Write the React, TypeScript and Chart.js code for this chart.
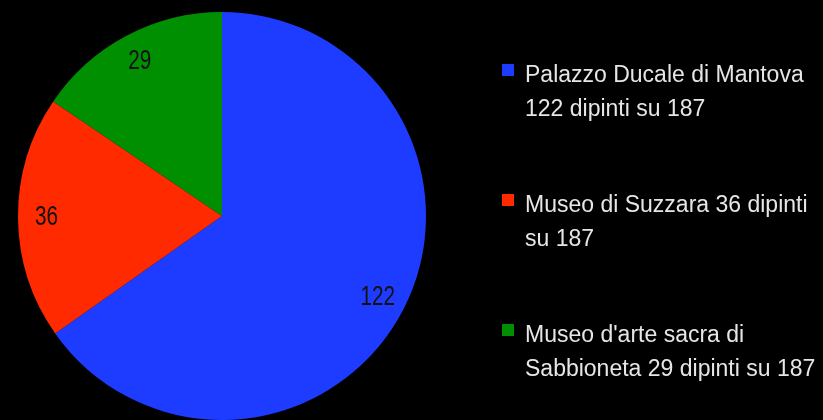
import React, { useEffect, useRef } from "react";
import { Chart, registerables } from "chart.js";

Chart.register(...registerables);

const categories = [
  "Palazzo Ducale di Mantova 122 dipinti su 187",
  "Museo di Suzzara 36 dipinti su 187",
  "Museo d'arte sacra di Sabbioneta 29 dipinti su 187",
];
const values = [122, 36, 29];
const colors = ["#1e3cff", "#ff2a00", "#008f00"];

const labelsPlugin = {
  id: "sliceLabels",
  afterDatasetsDraw(chart: any) {
    const ctx = chart.ctx;
    const meta = chart.getDatasetMeta(0);
    meta.data.forEach((arc: any, i: number) => {
      const p = arc.getProps(["x", "y", "startAngle", "endAngle", "outerRadius"], true);
      const mid = (p.startAngle + p.endAngle) / 2;
      const r = p.outerRadius * 0.86;
      const x = p.x + Math.cos(mid) * r;
      const y = p.y + Math.sin(mid) * r;
      ctx.save();
      ctx.translate(x, y);
      ctx.scale(0.74, 1);
      ctx.font = "28px 'Liberation Sans', Arial, sans-serif";
      ctx.fillStyle = "#111111";
      ctx.textAlign = "center";
      ctx.textBaseline = "middle";
      ctx.fillText(String(values[i]), 0, 0);
      ctx.restore();
    });
  },
};

const legendPlugin = {
  id: "sideLegend",
  afterDraw(chart: any) {
    const ctx = chart.ctx;
    ctx.save();
    ctx.font = "23px 'Liberation Sans', Arial, sans-serif";
    ctx.textAlign = "left";
    ctx.textBaseline = "alphabetic";
    const textX = 525;
    const maxW = chart.width - textX - 2;
    categories.forEach((label, i) => {
      const base = 82 + i * 130;
      ctx.fillStyle = colors[i];
      ctx.fillRect(502, base - 18, 12, 12);
      const words = label.split(" ");
      const lines: string[] = [];
      let cur = "";
      words.forEach((w) => {
        const t = cur ? cur + " " + w : w;
        if (ctx.measureText(t).width > maxW && cur) {
          lines.push(cur);
          cur = w;
        } else cur = t;
      });
      if (cur) lines.push(cur);
      ctx.fillStyle = "#e6e6e6";
      lines.forEach((ln, j) => ctx.fillText(ln, textX, base + j * 34));
    });
    ctx.restore();
  },
};

export default function App() {
  const ref = useRef<HTMLCanvasElement>(null);
  useEffect(() => {
    document.body.style.margin = "0";
    document.body.style.background = "#000";
    const chart = new Chart(ref.current!, {
      type: "pie",
      data: {
        labels: categories,
        datasets: [
          {
            data: values,
            backgroundColor: colors,
            borderWidth: 0,
          },
        ],
      },
      options: {
        animation: false,
        responsive: false,
        maintainAspectRatio: false,
        layout: { padding: { left: 18, top: 12, right: 397, bottom: 0 } },
        plugins: {
          legend: { display: false },
          tooltip: { enabled: false },
        },
      },
      plugins: [labelsPlugin, legendPlugin],
    });
    return () => chart.destroy();
  }, []);
  return (
    <div style={{ width: 823, height: 420, background: "#000" }}>
      <canvas ref={ref} width={823} height={420} style={{ display: "block" }} />
    </div>
  );
}
